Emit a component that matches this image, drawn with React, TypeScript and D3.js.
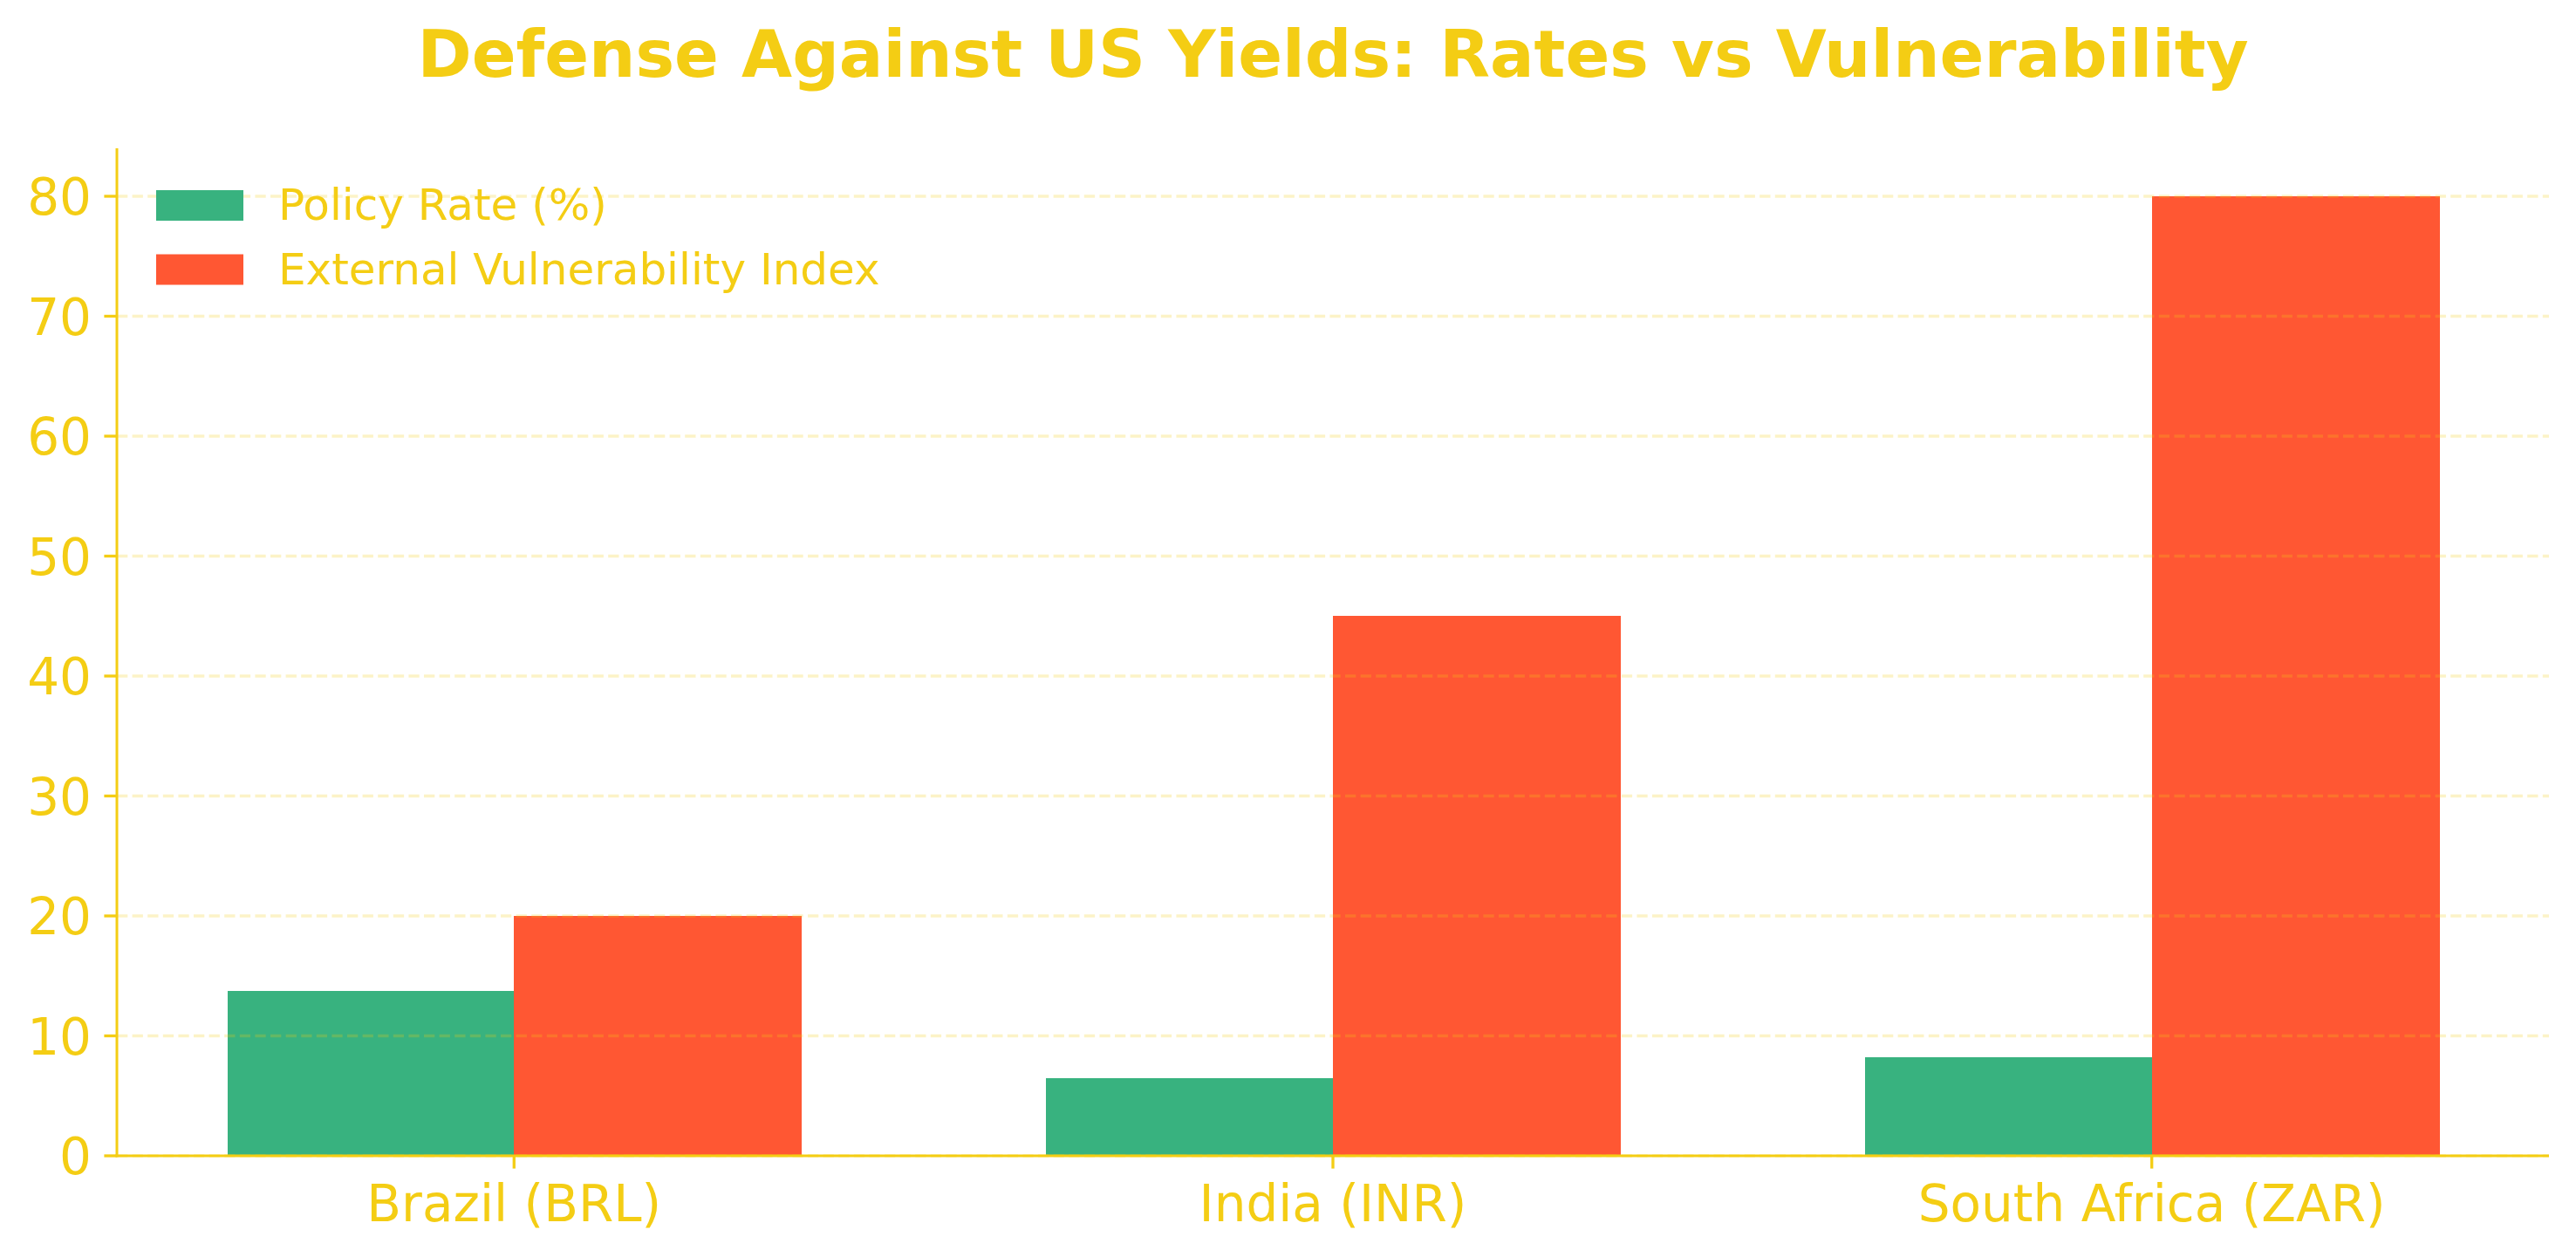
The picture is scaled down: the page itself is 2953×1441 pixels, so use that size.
import * as d3 from "d3";

const categories = ["Brazil (BRL)", "India (INR)", "South Africa (ZAR)"];
const policyRate = [13.75, 6.5, 8.25];
const vulnerability = [20, 45, 80];
const yTicks = [0, 10, 20, 30, 40, 50, 60, 70, 80];
const seriesNames = ["Policy Rate (%)", "External Vulnerability Index"];

const W = 2953;
const H = 1441;
const GOLD = "#F4CD14";
const GREEN = "#38B27F";
const ORANGE = "#FF5733";
const FONT = "'DejaVu Sans', sans-serif";

export default function App() {
  const barW = 0.35;
  const x = d3.scaleLinear().domain([-0.485, 2.485]).range([134, 2922]);
  const y = d3.scaleLinear().domain([0, 84]).range([1325, 170]);
  const bw = x(barW) - x(0);

  const series = [
    { name: seriesNames[0], values: policyRate, color: GREEN, offset: -barW / 2 },
    { name: seriesNames[1], values: vulnerability, color: ORANGE, offset: barW / 2 },
  ];

  return (
    <div style={{ position: "fixed", left: 0, top: 0, width: W, height: H, background: "#fff" }}>
      <svg width={W} height={H} style={{ display: "block", fontFamily: FONT }}>
        <text x={(x.range()[0] + x.range()[1]) / 2} y={88} textAnchor="middle"
          fontSize={75} fontWeight="bold" fill={GOLD}>
          Defense Against US Yields: Rates vs Vulnerability
        </text>

        {/* bars */}
        {series.map((s) =>
          s.values.map((v, i) => (
            <rect key={s.name + i} x={Math.round(x(i + s.offset) - bw / 2)} y={y(v)}
              width={Math.round(bw) + 1} height={y(0) - y(v)} fill={s.color}
              shapeRendering="crispEdges" />
          ))
        )}

        {/* grid sits above the bars */}
        {yTicks.map((t) => (
          <line key={"g" + t} x1={x.range()[0]} x2={x.range()[1]} y1={y(t)} y2={y(t)}
            stroke={GOLD} strokeOpacity={0.24} strokeWidth={3.33} strokeDasharray="12.3 5.3" />
        ))}

        {/* spines */}
        <line x1={x.range()[0]} x2={x.range()[0]} y1={y.range()[1]} y2={y(0) + 1.5}
          stroke={GOLD} strokeWidth={3} />
        <line x1={x.range()[0] - 1.5} x2={x.range()[1]} y1={y(0)} y2={y(0)}
          stroke={GOLD} strokeWidth={3} />

        {/* y ticks */}
        {yTicks.map((t) => (
          <g key={"y" + t}>
            <line x1={x.range()[0] - 14.6} x2={x.range()[0]} y1={y(t)} y2={y(t)}
              stroke={GOLD} strokeWidth={3.3} />
            <text x={x.range()[0] - 29} y={y(t) + 21} textAnchor="end" fontSize={58} fill={GOLD}>
              {t}
            </text>
          </g>
        ))}

        {/* x ticks */}
        {categories.map((c, i) => (
          <g key={c}>
            <line x1={x(i)} x2={x(i)} y1={y(0)} y2={y(0) + 14.6} stroke={GOLD} strokeWidth={3.3} />
            <text x={x(i)} y={1400} textAnchor="middle" fontSize={58} fill={GOLD}>
              {c}
            </text>
          </g>
        ))}

        {/* legend */}
        {series.map((s, i) => (
          <g key={"l" + s.name} transform={`translate(179, ${218 + i * 73.5})`}>
            <rect x={0} y={0} width={100} height={35} fill={s.color} />
            <text x={140} y={34} fontSize={50} fill={GOLD}>{s.name}</text>
          </g>
        ))}
      </svg>
    </div>
  );
}
